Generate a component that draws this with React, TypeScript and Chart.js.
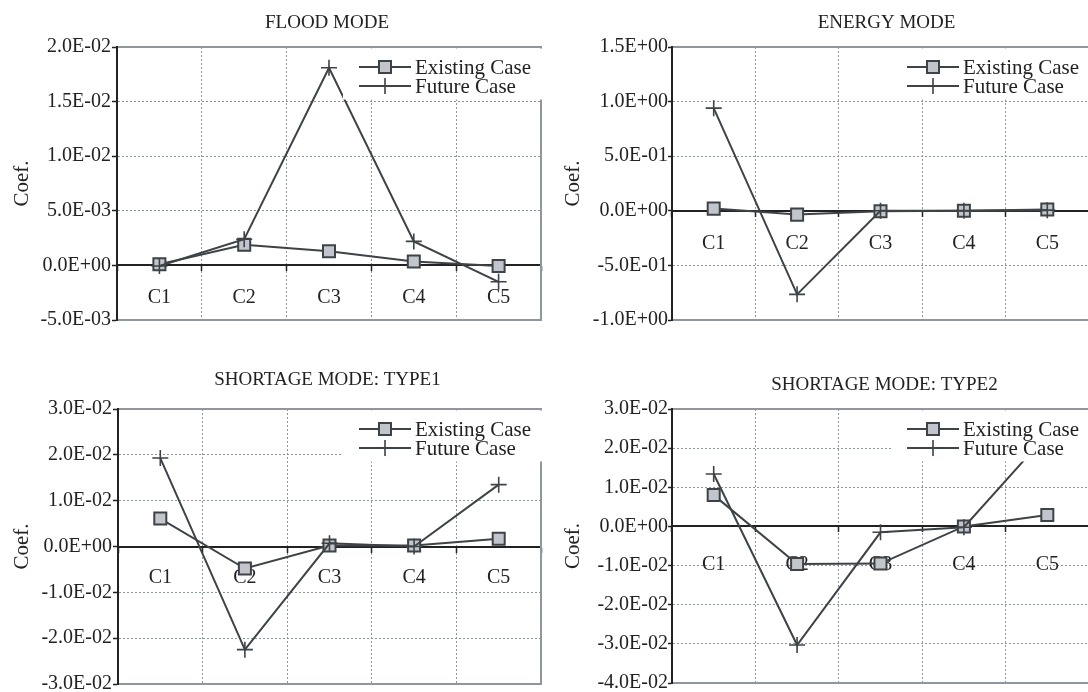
import React, { useEffect, useRef } from "react";
import { Chart, registerables } from "chart.js";

Chart.register(...registerables);

const categories = ["C1", "C2", "C3", "C4", "C5"];
const seriesLabels = ["Existing Case", "Future Case"];
const titles = ["FLOOD MODE", "ENERGY MODE", "SHORTAGE MODE: TYPE1", "SHORTAGE MODE: TYPE2"];
const axisTitle = "Coef.";

const floodExisting = [0.0001, 0.0019, 0.0013, 0.00035, -0.00005];
const floodFuture = [-0.00005, 0.0024, 0.0181, 0.0022, -0.0015];
const energyExisting = [0.02, -0.035, -0.005, 0.0, 0.012];
const energyFuture = [0.94, -0.765, 0.0, 0.0, 0.006];
const type1Existing = [0.0061, -0.0048, 0.0002, 0.0002, 0.0017];
const type1Future = [0.0193, -0.0225, 0.0007, 0.0, 0.0135];
const type2Existing = [0.008, -0.0096, -0.0095, 0.0, 0.0029];
const type2Future = [0.0134, -0.0303, -0.0015, -0.0002, 0.0235];

const yMins = [-0.005, -1.0, -0.03, -0.04];
const yMaxs = [0.02, 1.5, 0.03, 0.03];
const ySteps = [0.005, 0.5, 0.01, 0.01];

const FONT = "'Liberation Serif', 'Times New Roman', serif";
const TEXT = "#222222";
const LINE = "#3e4347";
const SQUARE_FILL = "#c2c5cb";
const GRID = "#8e949c";
const FRAME = "#8f969e";

type Panel = {
  title: string;
  existing: number[];
  future: number[];
  min: number;
  max: number;
  step: number;
  left: number;
  top: number;
  w: number;
  h: number;
  area: { l: number; r: number; t: number; b: number };
  titleY: number;
  titleDx: number;
  titlePad: number;
  tickPad: number;
  tickLen: number;
  catPad: number;
};

const panels: Panel[] = [
  { title: titles[0], existing: floodExisting, future: floodFuture, min: yMins[0], max: yMaxs[0], step: ySteps[0], left: 0, top: 0, w: 556, h: 346, area: { l: 117, r: 541, t: 47, b: 320 }, titleY: 23, titleDx: -2, titlePad: 7, tickPad: 1, tickLen: 5, catPad: 15 },
  { title: titles[1], existing: energyExisting, future: energyFuture, min: yMins[1], max: yMaxs[1], step: ySteps[1], left: 544, top: 0, w: 560, h: 346, area: { l: 672, r: 1089, t: 47, b: 320 }, titleY: 23, titleDx: 6, titlePad: 14, tickPad: 0, tickLen: 4, catPad: 16 },
  { title: titles[2], existing: type1Existing, future: type1Future, min: yMins[2], max: yMaxs[2], step: ySteps[2], left: 0, top: 346, w: 556, h: 360, area: { l: 118, r: 541, t: 409, b: 684 }, titleY: 380, titleDx: -2, titlePad: 7, tickPad: 1, tickLen: 5, catPad: 14 },
  { title: titles[3], existing: type2Existing, future: type2Future, min: yMins[3], max: yMaxs[3], step: ySteps[3], left: 544, top: 346, w: 560, h: 360, area: { l: 672, r: 1089, t: 409, b: 683 }, titleY: 385, titleDx: 4, titlePad: 14, tickPad: 0, tickLen: 4, catPad: 21 },
];

function sci(v: number, step: number): string {
  if (Math.abs(v) < step * 1e-6) return "0.0E+00";
  const [m, e] = v.toExponential(1).split("e");
  const n = parseInt(e, 10);
  return m + "E" + (n < 0 ? "-" : "+") + String(Math.abs(n)).padStart(2, "0");
}

function makeChart(canvas: HTMLCanvasElement, p: Panel): Chart {
  const lp = 3;
  const framePlugin = {
    id: "frame",
    beforeDatasetsDraw(chart: any) {
      const { ctx, chartArea: a } = chart;
      ctx.save();
      ctx.strokeStyle = FRAME;
      ctx.lineWidth = 2;
      ctx.beginPath();
      ctx.moveTo(a.left + 1, a.top);
      ctx.lineTo(a.right, a.top);
      ctx.lineTo(a.right, a.bottom);
      ctx.lineTo(a.left + 1, a.bottom);
      ctx.stroke();
      ctx.restore();
    },
  };
  const legendPlugin = {
    id: "innerLegend",
    afterDatasetsDraw(chart: any) {
      const { ctx, chartArea: a } = chart;
      ctx.save();
      ctx.fillStyle = "#ffffff";
      ctx.fillRect(a.right - 198, a.top + 1.5, 201, 51);
      const ds = [chart.data.datasets[0], chart.data.datasets[1]];
      ds.forEach((d: any, i: number) => {
        const y = a.top + 20 + i * 19;
        const x0 = a.right - 182;
        const x1 = a.right - 130;
        const cx = (x0 + x1) / 2;
        ctx.strokeStyle = d.borderColor;
        ctx.lineWidth = 2;
        ctx.beginPath();
        ctx.moveTo(x0, y);
        ctx.lineTo(x1, y);
        ctx.stroke();
        if (d.pointStyle === "rect") {
          const s = 6;
          ctx.fillStyle = d.pointBackgroundColor;
          ctx.fillRect(cx - s, y - s, 2 * s, 2 * s);
          ctx.lineWidth = d.pointBorderWidth;
          ctx.strokeStyle = d.pointBorderColor;
          ctx.strokeRect(cx - s, y - s, 2 * s, 2 * s);
        } else {
          const r = d.pointRadius;
          ctx.lineWidth = d.pointBorderWidth;
          ctx.strokeStyle = d.pointBorderColor;
          ctx.beginPath();
          ctx.moveTo(cx - r, y);
          ctx.lineTo(cx + r, y);
          ctx.moveTo(cx, y - r);
          ctx.lineTo(cx, y + r);
          ctx.stroke();
        }
        ctx.fillStyle = TEXT;
        ctx.font = `21px ${FONT}`;
        ctx.textAlign = "left";
        ctx.textBaseline = "middle";
        ctx.fillText(d.label, a.right - 126, y + 1);
      });
      ctx.restore();
    },
  };
  const titlePlugin = {
    id: "panelTitle",
    afterDraw(chart: any) {
      const { ctx, chartArea: a } = chart;
      ctx.save();
      ctx.fillStyle = TEXT;
      ctx.font = `19px ${FONT}`;
      ctx.textAlign = "center";
      ctx.textBaseline = "middle";
      ctx.fillText(p.title, (a.left + a.right) / 2 + p.titleDx, p.titleY - p.top);
      ctx.restore();
    },
  };

  return new Chart(canvas, {
    type: "line",
    data: {
      labels: categories,
      datasets: [
        {
          label: seriesLabels[0],
          data: p.existing,
          borderColor: LINE,
          borderWidth: 2,
          pointStyle: "rect",
          pointRadius: 8.5,
          pointBackgroundColor: SQUARE_FILL,
          pointBorderColor: LINE,
          pointBorderWidth: 2,
          tension: 0,
          fill: false,
          order: 1,
        } as any,
        {
          label: seriesLabels[1],
          data: p.future,
          borderColor: LINE,
          borderWidth: 2,
          pointStyle: "cross",
          pointRadius: 8,
          pointBorderColor: LINE,
          pointBorderWidth: 1.6,
          tension: 0,
          fill: false,
          order: 0,
        } as any,
      ],
    },
    options: {
      animation: false,
      responsive: false,
      devicePixelRatio: 1,
      events: [],
      layout: {
        padding: {
          left: lp,
          top: p.area.t - p.top,
          right: p.left + p.w - p.area.r,
          bottom: p.top + p.h - p.area.b,
        },
      },
      scales: {
        x: {
          type: "category",
          offset: true,
          position: { y: 0 } as any,
          grid: {
            offset: true,
            color: GRID,
            lineWidth: 1,
            drawTicks: true,
            tickLength: 5,
            tickColor: TEXT,
            tickWidth: 1.5,
            tickBorderDash: [],
          },
          border: { display: true, color: TEXT, width: 2, dash: [2, 2] },
          ticks: { font: { family: FONT, size: 20 }, color: TEXT, padding: p.catPad, maxRotation: 0 },
        },
        y: {
          type: "linear",
          position: "left",
          min: p.min,
          max: p.max,
          ticks: {
            stepSize: p.step,
            font: { family: FONT, size: 20 },
            color: TEXT,
            padding: p.tickPad,
            callback: (v: any) => sci(Number(v), p.step),
          },
          grid: {
            color: GRID,
            lineWidth: 1,
            drawTicks: true,
            tickLength: p.tickLen,
            tickColor: TEXT,
            tickWidth: 1.5,
            tickBorderDash: [],
          },
          border: { display: true, color: TEXT, width: 2, dash: [2, 2] },
          title: {
            display: true,
            text: axisTitle,
            font: { family: FONT, size: 21 },
            color: TEXT,
            padding: { top: p.titlePad, bottom: 0 },
          },
          afterFit: (s: any) => {
            s.width = p.area.l - p.left - lp;
            s.paddingTop = 0;
            s.paddingBottom = 0;
          },
        },
      },
      plugins: {
        legend: { display: false },
        tooltip: { enabled: false },
        title: { display: false },
      },
    } as any,
    plugins: [framePlugin, legendPlugin, titlePlugin],
  });
}

function PanelChart({ p }: { p: Panel }) {
  const ref = useRef<HTMLCanvasElement | null>(null);
  useEffect(() => {
    if (!ref.current) return;
    const chart = makeChart(ref.current, p);
    return () => chart.destroy();
  }, [p]);
  return (
    <canvas
      ref={ref}
      width={p.w}
      height={p.h}
      style={{ position: "absolute", left: p.left, top: p.top, width: p.w, height: p.h }}
    />
  );
}

export default function App() {
  return (
    <div style={{ position: "absolute", left: 0, top: 0, width: 1088, height: 692, background: "#ffffff", overflow: "hidden" }}>
      {panels.map((p, i) => (
        <PanelChart key={i} p={p} />
      ))}
    </div>
  );
}
